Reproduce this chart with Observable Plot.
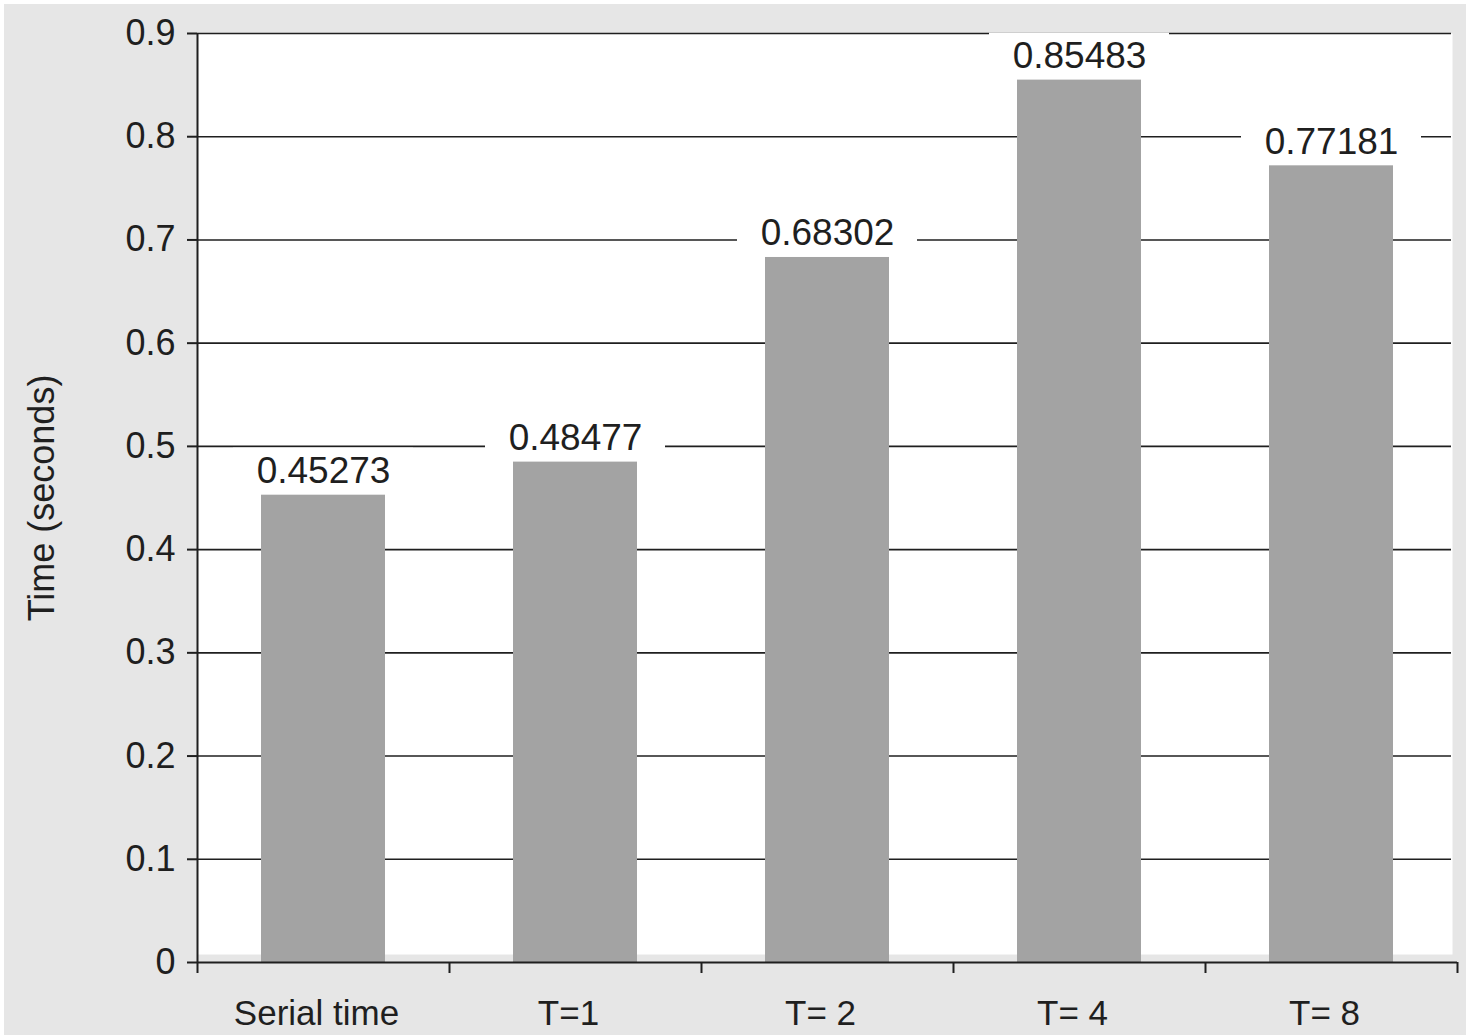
<!DOCTYPE html>
<html>
<head>
<meta charset="utf-8">
<script src="https://cdn.jsdelivr.net/npm/d3@7"></script>
<script src="https://cdn.jsdelivr.net/npm/@observablehq/plot@0.6"></script>
<style>
  html, body { margin: 0; padding: 0; background: #ffffff; }
  #chart { padding: 4px 0 0 4px; }
  #chart svg { display: block; background: #e6e6e6; }
</style>
</head>
<body>
<div id="chart"></div>
<script>
const categories = ["Serial time", "T=1", "T= 2", "T= 4", "T= 8"];
const times = [0.45273, 0.48477, 0.68302, 0.85483, 0.77181];
const valueLabels = ["0.45273", "0.48477", "0.68302", "0.85483", "0.77181"];
const yTicks = [0, 0.1, 0.2, 0.3, 0.4, 0.5, 0.6, 0.7, 0.8, 0.9];
const yTickLabels = ["0", "0.1", "0.2", "0.3", "0.4", "0.5", "0.6", "0.7", "0.8", "0.9"];
const yLabel = "Time (seconds)";

const data = categories.map((c, i) => ({i, cat: c, value: times[i], label: valueLabels[i]}));
const bandEdges = d3.range(categories.length + 1);
const bandCenters = categories.map((_, i) => i + 0.5);

const font = "'Liberation Sans', Arial, Helvetica, sans-serif";
const ink = "#1f1f1f";

const chart = Plot.plot({
  width: 1462,
  height: 1031,
  marginLeft: 193,
  marginTop: 29,
  marginBottom: 73,
  marginRight: 9,
  style: {fontFamily: font, color: ink, background: "#e6e6e6"},
  x: {type: "linear", domain: [0, categories.length]},
  y: {type: "linear", domain: [0, 0.9]},
  marks: [
    Plot.frame({fill: "#ffffff", stroke: null, insetRight: 5, insetBottom: 8}),
    Plot.ruleY(yTicks.filter(d => d > 0), {stroke: ink, strokeWidth: 1.6, insetRight: 6}),
    Plot.rectY(data, {x1: "i", x2: d => d.i + 1, y: "value", fill: "#a3a3a3", insetLeft: 64, insetRight: 64}),
    Plot.rectY(data, {x1: "i", x2: d => d.i + 1, y1: "value", y2: "value", fill: "#ffffff",
      insetLeft: 36, insetRight: 36, insetTop: -47, insetBottom: 8}),
    Plot.text(data, {x: d => d.i + 0.5, y: "value", text: "label", lineAnchor: "bottom", dy: -12,
      fontSize: 37, fill: ink, fontFamily: font}),
    Plot.ruleY([0], {stroke: ink, strokeWidth: 2}),
    Plot.ruleX([0], {y1: 0, y2: 0.9, stroke: ink, strokeWidth: 2}),
    Plot.axisY({ticks: yTicks, tickSize: 10, tickPadding: 12, tickFormat: (d, k) => yTickLabels[k],
      fontSize: 36, stroke: ink, strokeWidth: 2, label: null}),
    Plot.axisX({ticks: bandEdges, tickSize: 11, tickFormat: () => "", stroke: ink, strokeWidth: 2, label: null}),
    Plot.axisX({ticks: bandCenters, tickSize: 0, tickPadding: 38, dx: -7, tickFormat: (d, k) => categories[k],
      fontSize: 35, label: null}),
    Plot.text([yLabel], {frameAnchor: "left", textAnchor: "middle", rotate: -90, dx: -155, fontSize: 36,
      fill: ink, fontFamily: font})
  ]
});
document.getElementById("chart").append(chart);
</script>
</body>
</html>
